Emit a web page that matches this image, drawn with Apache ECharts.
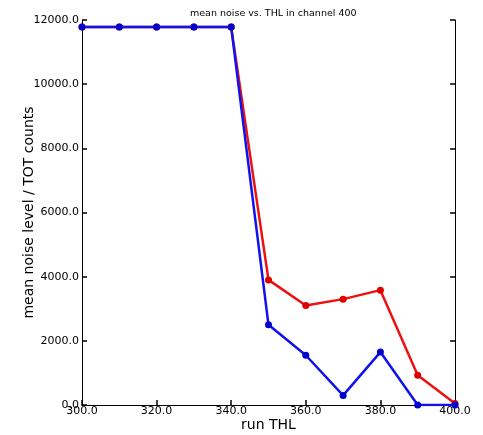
<!DOCTYPE html>
<html>
<head>
<meta charset="utf-8">
<script src="https://cdn.jsdelivr.net/npm/echarts@6/dist/echarts.min.js"></script>
<style>
html,body{margin:0;padding:0;background:#fff;}
#chart{width:483px;height:435px;}
</style>
</head>
<body>
<div id="chart"></div>
<script>
// THL scan values and mean noise per run
const thl = [300, 310, 320, 330, 340, 350, 360, 370, 380, 390, 400];
const noiseRed = [11780, 11780, 11780, 11780, 11780, 3900, 3100, 3300, 3580, 930, 50];
const noiseBlue = [11780, 11780, 11780, 11780, 11780, 2500, 1550, 300, 1650, 0, 0];
const xTicks = [300, 320, 340, 360, 380, 400];
const yTicks = [0, 2000, 4000, 6000, 8000, 10000, 12000];

const font = 'DejaVu Sans';
const pair = (xs, ys) => xs.map((x, i) => [x, ys[i]]);

const chart = echarts.init(document.getElementById('chart'));
chart.setOption({
  animation: false,
  backgroundColor: '#fff',
  title: {
    text: 'mean noise vs. THL in channel 400',
    left: 185, top: 4,
    textStyle: {fontFamily: font, fontSize: 9.5, fontWeight: 'normal', color: '#000'}
  },
  grid: {left: 82, right: 28, top: 20, bottom: 30, containLabel: false, outerBoundsMode: 'none'},
  xAxis: [{
    type: 'value', min: xTicks[0], max: xTicks[xTicks.length - 1], interval: 20,
    name: 'run THL', nameLocation: 'middle', nameGap: 13, nameMoveOverlap: false,
    nameTextStyle: {fontFamily: font, fontSize: 14, color: '#000'},
    axisLine: {show: true, lineStyle: {color: '#000', width: 1}},
    axisTick: {show: true, inside: true, length: 5, lineStyle: {color: '#000', width: 1.5}},
    axisLabel: {fontFamily: font, fontSize: 11, color: '#000', margin: 1,
      formatter: v => v.toFixed(1)},
    splitLine: {show: false}
  }, {
    type: 'value', position: 'top', min: 300, max: 400,
    axisLine: {show: true, lineStyle: {color: '#000', width: 1}},
    axisTick: {show: false}, axisLabel: {show: false}, splitLine: {show: false}
  }],
  yAxis: [{
    type: 'value', min: yTicks[0], max: yTicks[yTicks.length - 1], interval: 2000,
    name: 'mean noise level / TOT counts', nameLocation: 'middle', nameGap: 46, nameMoveOverlap: false,
    nameTextStyle: {fontFamily: font, fontSize: 14, color: '#000'},
    axisLine: {show: true, lineStyle: {color: '#000', width: 1}},
    axisTick: {show: true, inside: true, length: 5, lineStyle: {color: '#000', width: 1.5}},
    axisLabel: {fontFamily: font, fontSize: 11, color: '#000', margin: 3,
      formatter: v => v.toFixed(1)},
    splitLine: {show: false}
  }, {
    type: 'value', position: 'right', min: 0, max: 12000, interval: 2000,
    axisLine: {show: true, lineStyle: {color: '#000', width: 1}},
    axisTick: {show: true, inside: true, length: 5, lineStyle: {color: '#000', width: 1.5}},
    axisLabel: {show: false}, splitLine: {show: false}
  }],
  series: [{
    type: 'line', data: pair(thl, noiseRed),
    symbol: 'circle', symbolSize: 7,
    lineStyle: {color: '#ee1111', width: 2.5},
    itemStyle: {color: '#dd0000'}
  }, {
    type: 'line', data: pair(thl, noiseBlue),
    symbol: 'circle', symbolSize: 7,
    lineStyle: {color: '#1111ee', width: 2.5},
    itemStyle: {color: '#0000cc'}
  }]
});
</script>
</body>
</html>
